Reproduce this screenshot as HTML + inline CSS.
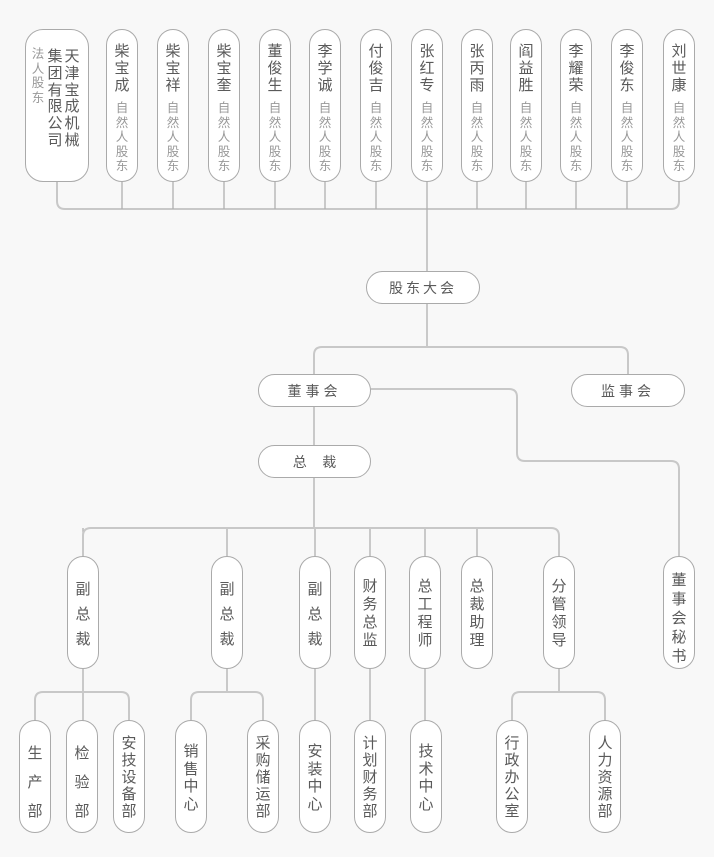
<!DOCTYPE html>
<html><head><meta charset="utf-8"><style>
body{margin:0;width:714px;height:857px;background:#f8f8f8;position:relative;overflow:hidden;font-family:"Liberation Sans","Noto Sans CJK SC",sans-serif;color:#5a5a5a}
.b{position:absolute;background:#fff;border:1.3px solid #aaa;box-sizing:border-box;border-radius:17px}
.v{position:absolute;width:20px;text-align:center;font-size:15px}
.s{position:absolute;width:20px;text-align:center;font-size:12.5px;line-height:14.5px;color:#999}
.h{position:absolute;text-align:center;font-size:14px;line-height:32px}
svg{position:absolute;left:0;top:0}
</style></head><body>
<svg width="714" height="857" fill="none" stroke="#c8c8c8" stroke-width="2">
<path d="M57 181V201Q57 209 65 209H671Q679 209 679 201V181"/>
<g stroke="#b0b0b0" stroke-width="1.3">
<path d="M122 181V209M173 181V209M224 181V209M275 181V209M325 181V209M376 181V209M427 181V272M477 181V209M526 181V209M576 181V209M627 181V209"/>
<path d="M427 303V347M314 406V445M314 477V528M83 528V557M227 528V557M315 528V557M370 528V557M425 528V557M477 528V557"/>
<path d="M83 669V721M227 669V692M315 669V721M370 669V721M425 669V721M559 669V692"/>
</g>
<path d="M314 374V355Q314 347 322 347H620Q628 347 628 355V374"/>
<path d="M371 389H509Q517 389 517 397V453Q517 461 525 461H671Q679 461 679 469V557"/>
<path d="M83 557V536Q83 528 91 528H551Q559 528 559 536V557"/>
<path d="M35 721V700Q35 692 43 692H121Q129 692 129 700V721"/>
<path d="M191 721V700Q191 692 199 692H255Q263 692 263 700V721"/>
<path d="M512 721V700Q512 692 520 692H597Q605 692 605 700V721"/>
</svg>

<div class="b" style="left:25px;top:29px;width:64px;height:153px;border-radius:18px"></div>
<div class="v" style="left:62px;top:49px;line-height:16.8px;font-size:15px">天<br>津<br>宝<br>成<br>机<br>械</div>
<div class="v" style="left:45px;top:49px;line-height:16.8px;font-size:15px">集<br>团<br>有<br>限<br>公<br>司</div>
<div class="s" style="left:28px;top:47px">法<br>人<br>股<br>东</div>

<div class="b" style="left:106px;top:29px;width:32px;height:153px"></div><div class="v" style="left:112px;top:43px;line-height:17px">柴<br>宝<br>成</div><div class="s" style="left:112px;top:101px">自<br>然<br>人<br>股<br>东</div>
<div class="b" style="left:157px;top:29px;width:32px;height:153px"></div><div class="v" style="left:163px;top:43px;line-height:17px">柴<br>宝<br>祥</div><div class="s" style="left:163px;top:101px">自<br>然<br>人<br>股<br>东</div>
<div class="b" style="left:208px;top:29px;width:32px;height:153px"></div><div class="v" style="left:214px;top:43px;line-height:17px">柴<br>宝<br>奎</div><div class="s" style="left:214px;top:101px">自<br>然<br>人<br>股<br>东</div>
<div class="b" style="left:259px;top:29px;width:32px;height:153px"></div><div class="v" style="left:265px;top:43px;line-height:17px">董<br>俊<br>生</div><div class="s" style="left:265px;top:101px">自<br>然<br>人<br>股<br>东</div>
<div class="b" style="left:309px;top:29px;width:32px;height:153px"></div><div class="v" style="left:315px;top:43px;line-height:17px">李<br>学<br>诚</div><div class="s" style="left:315px;top:101px">自<br>然<br>人<br>股<br>东</div>
<div class="b" style="left:360px;top:29px;width:32px;height:153px"></div><div class="v" style="left:366px;top:43px;line-height:17px">付<br>俊<br>吉</div><div class="s" style="left:366px;top:101px">自<br>然<br>人<br>股<br>东</div>
<div class="b" style="left:411px;top:29px;width:32px;height:153px"></div><div class="v" style="left:417px;top:43px;line-height:17px">张<br>红<br>专</div><div class="s" style="left:417px;top:101px">自<br>然<br>人<br>股<br>东</div>
<div class="b" style="left:461px;top:29px;width:32px;height:153px"></div><div class="v" style="left:467px;top:43px;line-height:17px">张<br>丙<br>雨</div><div class="s" style="left:467px;top:101px">自<br>然<br>人<br>股<br>东</div>
<div class="b" style="left:510px;top:29px;width:32px;height:153px"></div><div class="v" style="left:516px;top:43px;line-height:17px">阎<br>益<br>胜</div><div class="s" style="left:516px;top:101px">自<br>然<br>人<br>股<br>东</div>
<div class="b" style="left:560px;top:29px;width:32px;height:153px"></div><div class="v" style="left:566px;top:43px;line-height:17px">李<br>耀<br>荣</div><div class="s" style="left:566px;top:101px">自<br>然<br>人<br>股<br>东</div>
<div class="b" style="left:611px;top:29px;width:32px;height:153px"></div><div class="v" style="left:617px;top:43px;line-height:17px">李<br>俊<br>东</div><div class="s" style="left:617px;top:101px">自<br>然<br>人<br>股<br>东</div>
<div class="b" style="left:663px;top:29px;width:32px;height:153px"></div><div class="v" style="left:669px;top:43px;line-height:17px">刘<br>世<br>康</div><div class="s" style="left:669px;top:101px">自<br>然<br>人<br>股<br>东</div>

<div class="b h" style="left:366px;top:271px;width:114px;height:33px;letter-spacing:3px">股东大会</div>
<div class="b h" style="left:258px;top:374px;width:113px;height:33px;letter-spacing:4px">董事会</div>
<div class="b h" style="left:571px;top:374px;width:114px;height:33px;letter-spacing:4px">监事会</div>
<div class="b h" style="left:258px;top:445px;width:113px;height:33px">总&nbsp;&nbsp;&nbsp;&nbsp;裁</div>

<div class="b" style="left:67px;top:556px;width:32px;height:113px"></div><div class="v" style="left:73px;top:577px;line-height:25px">副<br>总<br>裁</div>
<div class="b" style="left:211px;top:556px;width:32px;height:113px"></div><div class="v" style="left:217px;top:577px;line-height:25px">副<br>总<br>裁</div>
<div class="b" style="left:299px;top:556px;width:32px;height:113px"></div><div class="v" style="left:305px;top:577px;line-height:25px">副<br>总<br>裁</div>
<div class="b" style="left:354px;top:556px;width:32px;height:113px"></div><div class="v" style="left:360px;top:578px;line-height:18px">财<br>务<br>总<br>监</div>
<div class="b" style="left:409px;top:556px;width:32px;height:113px"></div><div class="v" style="left:415px;top:578px;line-height:18px">总<br>工<br>程<br>师</div>
<div class="b" style="left:461px;top:556px;width:32px;height:113px"></div><div class="v" style="left:467px;top:578px;line-height:18px">总<br>裁<br>助<br>理</div>
<div class="b" style="left:543px;top:556px;width:32px;height:113px"></div><div class="v" style="left:549px;top:578px;line-height:18px">分<br>管<br>领<br>导</div>
<div class="b" style="left:663px;top:556px;width:32px;height:113px"></div><div class="v" style="left:669px;top:571px;line-height:19px">董<br>事<br>会<br>秘<br>书</div>

<div class="b" style="left:19px;top:720px;width:32px;height:113px"></div><div class="v" style="left:25px;top:739px;line-height:29px">生<br>产<br>部</div>
<div class="b" style="left:66px;top:720px;width:32px;height:113px"></div><div class="v" style="left:72px;top:739px;line-height:29px">检<br>验<br>部</div>
<div class="b" style="left:113px;top:720px;width:32px;height:113px"></div><div class="v" style="left:119px;top:735px;line-height:17px">安<br>技<br>设<br>备<br>部</div>
<div class="b" style="left:175px;top:720px;width:32px;height:113px"></div><div class="v" style="left:181px;top:743px;line-height:17.5px">销<br>售<br>中<br>心</div>
<div class="b" style="left:247px;top:720px;width:32px;height:113px"></div><div class="v" style="left:253px;top:735px;line-height:17px">采<br>购<br>储<br>运<br>部</div>
<div class="b" style="left:299px;top:720px;width:32px;height:113px"></div><div class="v" style="left:305px;top:743px;line-height:17.5px">安<br>装<br>中<br>心</div>
<div class="b" style="left:354px;top:720px;width:32px;height:113px"></div><div class="v" style="left:360px;top:735px;line-height:17px">计<br>划<br>财<br>务<br>部</div>
<div class="b" style="left:410px;top:720px;width:32px;height:113px"></div><div class="v" style="left:416px;top:743px;line-height:17.5px">技<br>术<br>中<br>心</div>
<div class="b" style="left:496px;top:720px;width:32px;height:113px"></div><div class="v" style="left:502px;top:735px;line-height:17px">行<br>政<br>办<br>公<br>室</div>
<div class="b" style="left:589px;top:720px;width:32px;height:113px"></div><div class="v" style="left:595px;top:735px;line-height:17px">人<br>力<br>资<br>源<br>部</div>
</body></html>
